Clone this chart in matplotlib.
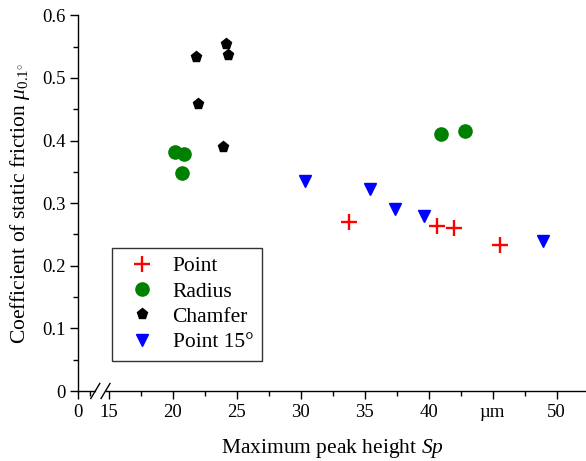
import matplotlib
matplotlib.use("Agg")
import matplotlib.pyplot as plt
from matplotlib.lines import Line2D

plt.rcParams["font.family"] = ["Liberation Serif", "DejaVu Serif"]
plt.rcParams["mathtext.fontset"] = "custom"
plt.rcParams["mathtext.rm"] = "Liberation Serif"
plt.rcParams["mathtext.it"] = "Liberation Serif:italic"

# Maximum peak height Sp (µm) and coefficient of static friction per tool geometry
point_sp = [33.8, 40.65, 42.0, 45.55]
point_mu = [0.270, 0.264, 0.261, 0.233]

radius_sp = [20.15, 20.85, 20.75, 40.95, 42.85]
radius_mu = [0.381, 0.379, 0.348, 0.411, 0.416]

chamfer_sp = [24.15, 24.35, 21.85, 21.95, 23.9]
chamfer_mu = [0.554, 0.537, 0.533, 0.458, 0.390]

point15_sp = [30.35, 35.45, 37.35, 39.65, 48.95]
point15_mu = [0.336, 0.323, 0.290, 0.279, 0.240]

x_tick_values = [0, 15, 20, 25, 30, 35, 40, 45, 50]
x_tick_labels = ["0", "15", "20", "25", "30", "35", "40", "µm", "50"]
y_tick_values = [0, 0.1, 0.2, 0.3, 0.4, 0.5, 0.6]
y_tick_labels = ["0", "0.1", "0.2", "0.3", "0.4", "0.5", "0.6"]

# Broken x-axis: the span 0..15 is squeezed into a short segment
BREAK = 15.0
ZERO_POS = 12.6


def xmap(v):
    if v >= BREAK:
        return v
    return ZERO_POS + (BREAK - ZERO_POS) * v / BREAK


fig = plt.figure(figsize=(5.86, 4.61), dpi=100)
ax = fig.add_axes([78 / 586, 1 - 391 / 461, 1 - 78 / 586, (391 - 15.3) / 461])

ax.plot([xmap(v) for v in point_sp], point_mu, linestyle="none", marker="+",
        markersize=12, markeredgewidth=1.7, color="#ff0000", label="Point")
ax.plot([xmap(v) for v in radius_sp], radius_mu, linestyle="none", marker="o",
        markersize=9.5, color="#008000", label="Radius")
ax.plot([xmap(v) for v in chamfer_sp], chamfer_mu, linestyle="none", marker="p",
        markersize=8, color="black", label="Chamfer")
ax.plot([xmap(v) for v in point15_sp], point15_mu, linestyle="none", marker="v",
        markersize=8.5, color="#0000ff", label="Point 15°")

ax.set_xlim(ZERO_POS, 52.3)
ax.set_ylim(0, 0.6)

ax.spines["top"].set_visible(False)
ax.spines["right"].set_visible(False)
for s in ("left", "bottom"):
    ax.spines[s].set_linewidth(1.0)
    ax.spines[s].set_clip_on(False)

ax.set_xticks([xmap(v) for v in x_tick_values])
ax.set_xticklabels(x_tick_labels)
ax.set_xticks([13.5, 17.5, 22.5, 27.5, 32.5, 37.5, 42.5, 47.5], minor=True)
ax.set_yticks(y_tick_values)
ax.set_yticklabels(y_tick_labels)
ax.set_yticks([0.05, 0.15, 0.25, 0.35, 0.45, 0.55], minor=True)
ax.tick_params(which="major", direction="out", length=6, width=1.0,
               labelsize=13.5, pad=3)
ax.tick_params(which="minor", direction="out", length=3.5, width=1.0)

ax.set_xlabel("Maximum peak height $\\mathit{Sp}$", fontsize=15.5, labelpad=12)
ax.set_ylabel("Coefficient of static friction $\\mathit{\\mu}_{0.1^{\\circ}}$",
              fontsize=15.5, labelpad=7)

# Break marks on the x-axis
for xb in (13.95, 14.75):
    ax.add_line(Line2D([xb - 0.35, xb + 0.35], [-0.012, 0.012],
                       transform=ax.transData, color="black", lw=1.0,
                       clip_on=False, zorder=5))
ax.add_line(Line2D([14.05, 14.65], [0, 0], color="white", lw=2.0,
                   clip_on=False, zorder=4))

leg = ax.legend(loc="upper left", bbox_to_anchor=(111.7 / 586, 1 - 247.7 / 461),
                bbox_transform=fig.transFigure, borderaxespad=0,
                fontsize=15.5, frameon=True, fancybox=False, edgecolor="black",
                handlelength=2.0, handletextpad=0.43, labelspacing=0.24,
                borderpad=0.4, numpoints=1)
leg.get_frame().set_linewidth(1.0)

fig.savefig("out.png", dpi=100)
